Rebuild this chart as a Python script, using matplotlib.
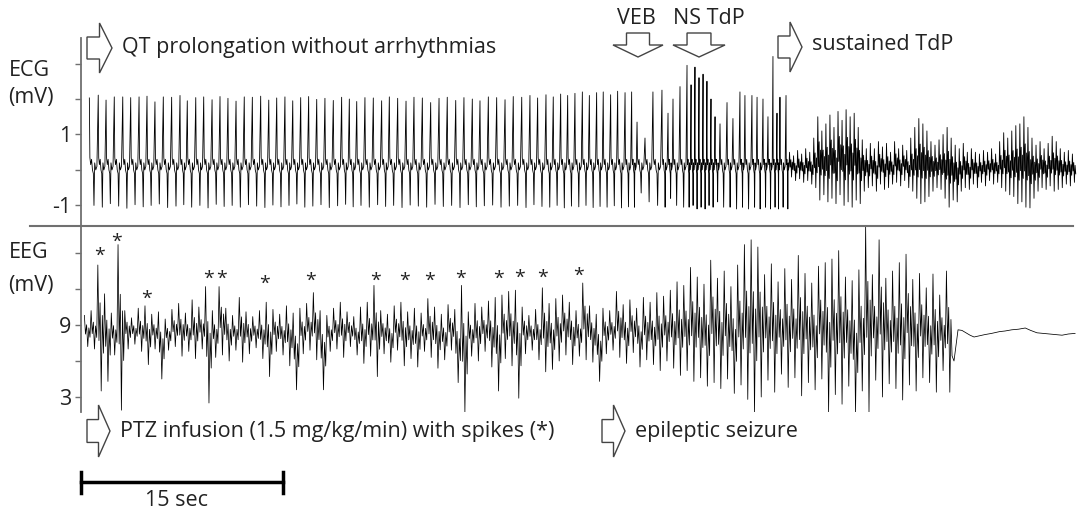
import matplotlib
matplotlib.use("Agg")
import matplotlib.pyplot as plt
from matplotlib.patches import Polygon
from matplotlib import transforms

# ---------------- data ----------------
# ECG: beat (R wave) times in s, R peak and S trough in mV
beat_t = [0.62, 1.28, 1.86, 2.47, 3.10, 3.69, 4.31, 4.90, 5.49, 6.11, 6.73, 7.35, 7.89,
          8.52, 9.11, 9.73, 10.32, 10.91, 11.51, 12.12, 12.72, 13.34, 13.94, 14.53, 15.14,
          15.72, 16.31, 16.90, 17.50, 18.11, 18.73, 19.35, 19.92, 20.47, 21.08, 21.70,
          22.32, 22.89, 23.51, 24.13, 24.72, 25.34, 25.96, 26.58, 27.19, 27.82, 28.43,
          29.05, 29.62, 30.24, 30.86, 31.48, 32.09, 32.72, 33.33, 33.90, 34.52, 35.06,
          35.61, 36.13, 36.67, 37.22, 37.74, 38.28, 38.77, 39.32, 39.84, 40.39, 40.88,
          # VEB and non sustained TdP
          41.28, 41.87, 42.46, 43.13, 43.58, 43.95, 44.47, 44.99, 45.29, 45.58, 45.88,
          46.18, 46.47, 46.77, 47.07, 47.44, 47.96, 48.40, 48.92, 49.29, 49.81, 50.19,
          50.63, 51.00, 51.37, 51.67, 51.89, 52.34]
beat_r = [2.03, 2.11, 1.97, 2.06, 2.06, 2.04, 2.06, 2.08, 1.92, 2.06, 2.05, 2.10, 1.95,
          2.04, 2.06, 1.98, 2.07, 2.02, 1.94, 2.06, 2.05, 2.08, 1.97, 2.03, 2.06, 1.95,
          2.04, 2.07, 1.99, 2.02, 1.96, 2.05, 2.00, 1.93, 2.04, 2.03, 1.95, 2.06, 2.02,
          1.94, 2.05, 2.03, 1.90, 2.02, 2.05, 1.96, 2.04, 2.00, 1.95, 2.06, 2.04, 1.98,
          2.07, 2.05, 2.10, 2.03, 2.12, 2.06, 2.14, 2.10, 2.16, 2.20, 2.10, 2.18, 2.20,
          2.12, 2.22, 2.18, 2.20,
          1.35, 0.90, 2.20, 2.25, 1.60, 2.00, 2.35, 2.95, 2.40, 2.90, 2.60, 2.70, 2.50,
          2.00, 1.50, 1.30, 1.90, 1.45, 2.20, 2.10, 2.10, 2.05, 2.00, 1.50, 3.20, 1.60,
          2.05, 2.10]
beat_s = [-1.00, -1.05, -0.95, -1.02, -1.08, -0.98, -1.04, -1.00, -0.96, -1.06, -1.02,
          -0.98, -1.05, -1.00, -1.07, -0.97, -1.03, -1.00, -1.05, -0.98, -1.02, -1.06,
          -0.99, -1.04, -1.00, -0.96, -1.05, -1.02, -0.98, -1.06, -1.01, -0.97, -1.04,
          -1.00, -1.05, -0.98, -1.03, -1.00, -1.06, -0.99, -1.02, -1.05, -0.97, -1.03,
          -1.00, -1.06, -0.98, -1.04, -1.01, -0.99, -1.05, -1.02, -1.00, -1.06, -0.98,
          -1.03, -1.05, -1.00, -1.07, -1.02, -1.04, -1.00, -1.06, -1.03, -1.05, -1.01,
          -1.07, -1.04, -1.05,
          -0.65, -0.90, -1.00, -1.05, -0.80, -1.00, -1.05, -1.05, -1.00, -1.10, -1.05,
          -1.10, -1.00, -1.05, -0.90, -1.05, -1.05, -1.10, -1.05, -1.10, -1.05, -1.10,
          -1.05, -1.10, -1.05, -1.10, -1.05, -1.10]

# ECG sustained TdP: max / min per 0.3 s bin (mV)
tdp_t0 = 52.6
tdp_hi = [0.50, 0.40, 0.55, 0.45, 0.60, 0.50, 0.90, 1.50, 1.10, 1.30, 1.55, 1.20, 1.65,
          1.40, 1.70, 1.50, 1.60, 1.20, 0.85, 0.60, 0.75, 0.60, 0.80, 0.65, 0.75, 0.50,
          0.80, 0.60, 0.70, 0.55, 0.90, 1.20, 1.45, 1.30, 1.10, 0.80, 0.70, 0.85, 1.00,
          1.20, 0.90, 0.70, 0.60, 0.75, 0.50, 0.60, 0.50, 0.45, 0.55, 0.50, 0.60, 0.45,
          0.80, 1.05, 0.90, 1.10, 1.25, 1.30, 1.50, 1.20, 0.90, 0.70, 0.80, 0.60, 0.75,
          0.95, 0.80, 0.60, 0.50, 0.55, 0.45]
tdp_lo = [-0.20, -0.30, -0.25, -0.35, -0.30, -0.40, -0.50, -0.85, -0.70, -0.90, -0.80,
          -0.95, -0.70, -1.00, -0.90, -1.05, -0.85, -0.95, -0.60, -0.50, -0.45, -0.60,
          -0.40, -0.55, -0.50, -0.40, -0.35, -0.45, -0.30, -0.50, -0.60, -0.80, -0.95,
          -0.90, -0.75, -0.60, -0.50, -0.55, -0.80, -1.05, -0.85, -0.90, -0.60, -0.50,
          -0.55, -0.40, -0.50, -0.35, -0.45, -0.30, -0.40, -0.35, -0.50, -0.60, -0.70,
          -0.75, -0.95, -0.90, -1.05, -1.07, -0.80, -0.60, -0.50, -0.55, -0.45, -0.60,
          -0.55, -0.50, -0.40, -0.45, -0.35]

# EEG: max / min per 0.5 s bin (mV), then the post-ictal trace
eeg_t0 = 0.25
eeg_hi = [9.8, 10.2, 14.0, 11.6, 10.0, 15.7, 10.2, 9.6, 10.4, 10.6, 9.9, 10.1, 9.5, 10.3,
          10.8, 10.0, 11.1, 10.5, 12.2, 10.2, 12.2, 10.4, 9.8, 11.3, 10.1, 9.7, 10.2, 10.9,
          10.3, 9.9, 10.6, 10.0, 10.4, 10.8, 11.7, 10.2, 9.8, 10.4, 10.9, 10.1, 9.7, 10.5,
          10.9, 12.3, 10.2, 9.9, 10.6, 10.9, 10.1, 10.4, 10.0, 11.2, 10.5, 9.9, 10.7, 10.3,
          12.3, 10.1, 10.8, 10.5, 11.0, 11.3, 11.5, 11.8, 11.9, 10.5, 9.8, 10.3, 12.1, 10.8,
          11.2, 11.5, 10.9, 10.2, 12.5, 10.6, 9.9, 10.4, 10.2, 11.8, 10.7, 11.1, 10.4, 11.3,
          10.9, 11.7, 11.4, 11.9, 12.6, 12.3, 13.8, 13.0, 12.4, 14.4, 12.9, 13.5, 12.2, 14.0,
          15.7, 16.1, 15.5, 13.2, 14.1, 12.6, 13.7, 12.8, 14.8, 13.3, 12.5, 13.9, 14.2, 14.5,
          15.2, 13.0, 12.7, 13.6, 17.3, 13.2, 16.1, 12.9, 13.5, 14.2, 14.9, 12.8, 13.3, 12.1,
          13.25, 11.5, 13.5]
eeg_lo = [7.2, 7.0, 3.5, 4.3, 6.5, 1.9, 7.0, 7.4, 6.8, 5.7, 7.0, 4.5, 6.9, 7.2, 6.4, 6.8,
          6.2, 7.0, 2.5, 6.3, 6.5, 6.0, 6.9, 5.9, 6.6, 7.1, 6.2, 4.7, 6.8, 6.5, 5.6, 3.6,
          6.6, 6.9, 6.1, 3.6, 6.8, 7.0, 6.3, 7.2, 6.5, 5.8, 6.4, 4.7, 6.6, 5.9, 6.9, 5.6,
          6.2, 5.5, 6.8, 6.3, 5.4, 6.1, 6.9, 4.2, 1.75, 6.4, 6.0, 6.8, 5.5, 3.5, 6.2, 5.6,
          2.9, 6.6, 6.9, 6.1, 5.1, 5.3, 6.0, 6.5, 5.7, 6.4, 6.1, 5.9, 4.3, 6.6, 6.9, 6.3,
          5.8, 6.7, 5.5, 6.1, 5.7, 5.2, 6.0, 5.4, 4.8, 5.2, 4.3, 4.6, 3.9, 4.2, 3.7, 4.5,
          3.3, 4.0, 2.8, 1.7, 3.0, 4.4, 3.4, 4.9, 3.8, 4.6, 3.1, 4.2, 3.6, 4.5, 1.75, 3.2,
          2.4, 3.9, 1.75, 3.5, 1.75, 4.4, 3.0, 4.1, 3.7, 2.75, 4.0, 3.5, 4.6, 4.2, 3.4,
          5.2, 3.4]
flat_t = [64.81, 65.11, 65.40, 65.70, 66.00, 66.30, 66.70, 67.10, 67.60, 68.20, 68.60,
          69.10, 69.60, 70.10, 70.50, 70.97, 71.45, 71.94, 72.40, 72.83, 73.30, 73.80]
flat_v = [6.0, 8.6, 8.55, 8.35, 8.15, 8.0, 8.1, 8.2, 8.3, 8.45, 8.5, 8.6, 8.65, 8.75,
          8.55, 8.35, 8.3, 8.25, 8.2, 8.15, 8.25, 8.3]

# EEG spikes marked with *
spike_t = [1.34, 2.67, 4.83, 9.50, 10.47, 13.66, 17.07, 21.90, 24.05, 25.91, 28.21,
           31.03, 32.52, 34.30, 36.97]
spike_mv = [15.1, 16.3, 11.5, 13.2, 13.2, 12.8, 13.0, 13.0, 13.0, 13.0, 13.2, 13.2,
            13.3, 13.3, 13.4]

ecg_ticks = [-1, 0, 1, 2, 3]
ecg_labels = ['-1', '', '1', '', '']
eeg_ticks = [3, 6, 9, 12, 15]
eeg_labels = ['3', '', '9', '', '']
scale_s = 15

# ---------------- figure ----------------
W, H = 1077, 514
PX_PER_S = 13.47
GREY = '#707070'
TXT = '#222222'
FS = 15.5
plt.rcParams['font.family'] = ['Open Sans', 'DejaVu Sans']
plt.rcParams['font.size'] = FS

fig = plt.figure(figsize=(W / 100, H / 100), dpi=100)


def px_axes(left, top, right, bottom, **kw):
    return fig.add_axes([left / W, 1 - bottom / H, (right - left) / W, (bottom - top) / H], **kw)


t_max = (W - 81) / PX_PER_S
ax_ecg = px_axes(81, 38, W, 226)
ax_eeg = px_axes(81, 226, W, 412)
over = fig.add_axes([0, 0, 1, 1], zorder=5)
over.set_xlim(0, W)
over.set_ylim(H, 0)
over.axis('off')
over.patch.set_visible(False)

# ECG trace: each beat drawn with a fixed wave shape scaled by its R and S
shape = [(0.0, 'R'), (0.06, 0.35), (0.15, 0.15), (0.25, 0.3), (0.35, 0.0), (0.45, -0.1),
         (0.52, 'S'), (0.60, 0.2), (0.72, 0.0), (0.85, 0.1)]
ecg_x, ecg_y = [], []
bounds = beat_t + [tdp_t0]
for i, tb in enumerate(beat_t):
    d = bounds[i + 1] - tb
    for ph, v in shape:
        ecg_x.append(tb + ph * d)
        ecg_y.append(beat_r[i] if v == 'R' else beat_s[i] if v == 'S' else v)

# inside one bin the trace visits the max, the min and a few levels in between
bin_frac = [1.0, 0.4, 0.7, 0.0, 0.6, 0.3]


def envelope_trace(t0, w, his, los):
    xs, ys = [], []
    n = len(bin_frac)
    for i, (hi, lo) in enumerate(zip(his, los)):
        for j, f in enumerate(bin_frac):
            xs.append(t0 + w * (i + j / n))
            ys.append(lo + f * (hi - lo))
    return xs, ys


tx, ty = envelope_trace(tdp_t0, 0.3, tdp_hi, tdp_lo)
ax_ecg.plot(ecg_x + tx, ecg_y + ty, color='black', lw=0.6)

ex, ey = envelope_trace(eeg_t0, 0.5, eeg_hi, eeg_lo)
ax_eeg.plot(ex + flat_t, ey + flat_v, color='black', lw=0.55)

star_tr = transforms.offset_copy(ax_eeg.transData, fig=fig, y=-4, units='dots')
for t, v in zip(spike_t, spike_mv):
    ax_eeg.text(t, v, '*', ha='center', va='center', fontsize=14, color=TXT, transform=star_tr)

for ax, ticks, labels, lim in [(ax_ecg, ecg_ticks, ecg_labels, (-1.58, 3.72)),
                               (ax_eeg, eeg_ticks, eeg_labels, (1.75, 17.25))]:
    ax.set_xlim(0, t_max)
    ax.set_ylim(*lim)
    ax.set_yticks(ticks)
    ax.set_yticklabels(labels)
    ax.set_xticks([])
    for s in ['top', 'right', 'bottom']:
        ax.spines[s].set_visible(False)
    ax.spines['left'].set_color(GREY)
    ax.spines['left'].set_linewidth(1.3)
    ax.tick_params(axis='y', length=4, width=1, color=GREY, pad=3, labelsize=FS,
                   labelcolor=TXT)
    ax.patch.set_visible(False)

# separator between ECG and EEG
over.plot([30, 1073], [226, 226], color=GREY, lw=1.5)

# axis titles
for txt, x, y in [('ECG', 9, 70), ('(mV)', 8, 97), ('EEG', 9, 253), ('(mV)', 8, 285)]:
    over.text(x, y, txt, ha='left', va='center', color=TXT)


def right_arrow(x0, x1, y0, y1):
    yc = (y0 + y1) / 2
    bh = (y1 - y0) * 0.22
    xh = x0 + (x1 - x0) * 0.5
    pts = [(x0, yc - bh), (xh, yc - bh), (xh, y0), (x1, yc), (xh, y1), (xh, yc + bh),
           (x0, yc + bh)]
    over.add_patch(Polygon(pts, closed=True, fc='white', ec='#444444', lw=1.0))


def down_arrow(x0, x1, y0, y1):
    xc = (x0 + x1) / 2
    bw = (x1 - x0) * 0.23
    yh = y0 + (y1 - y0) * 0.5
    pts = [(xc - bw, y0), (xc + bw, y0), (xc + bw, yh), (x1, yh), (xc, y1), (x0, yh),
           (xc - bw, yh)]
    over.add_patch(Polygon(pts, closed=True, fc='white', ec='#444444', lw=1.0))


right_arrow(87, 112, 23, 73)
over.text(122, 47, 'QT prolongation without arrhythmias', ha='left', va='center', color=TXT)
right_arrow(778, 802, 22, 72)
over.text(812, 45, 'sustained TdP', ha='left', va='center', color=TXT)
down_arrow(613, 663, 33, 57)
over.text(636, 18, 'VEB', ha='center', va='center', color=TXT)
down_arrow(673, 725, 33, 57)
over.text(709, 18, 'NS TdP', ha='center', va='center', color=TXT)
right_arrow(87, 110, 405, 457)
over.text(120, 432, 'PTZ infusion (1.5 mg/kg/min) with spikes (*)', ha='left', va='center',
          color=TXT)
right_arrow(602, 625, 405, 457)
over.text(635, 432, 'epileptic seizure', ha='left', va='center', color=TXT)

# 15 s scale bar (x in seconds, y in figure pixels)
tr = transforms.blended_transform_factory(ax_eeg.transData, over.transData)
over.plot([0, scale_s], [482, 482], color='black', lw=2.5, transform=tr, clip_on=False)
for t in [0, scale_s]:
    over.plot([t, t], [472, 493], color='black', lw=2.5, transform=tr, clip_on=False)
over.text(scale_s / 2 - 0.4, 500, f'{scale_s} sec', ha='center', va='center', transform=tr,
          color=TXT)

fig.savefig('out.png', dpi=100)
